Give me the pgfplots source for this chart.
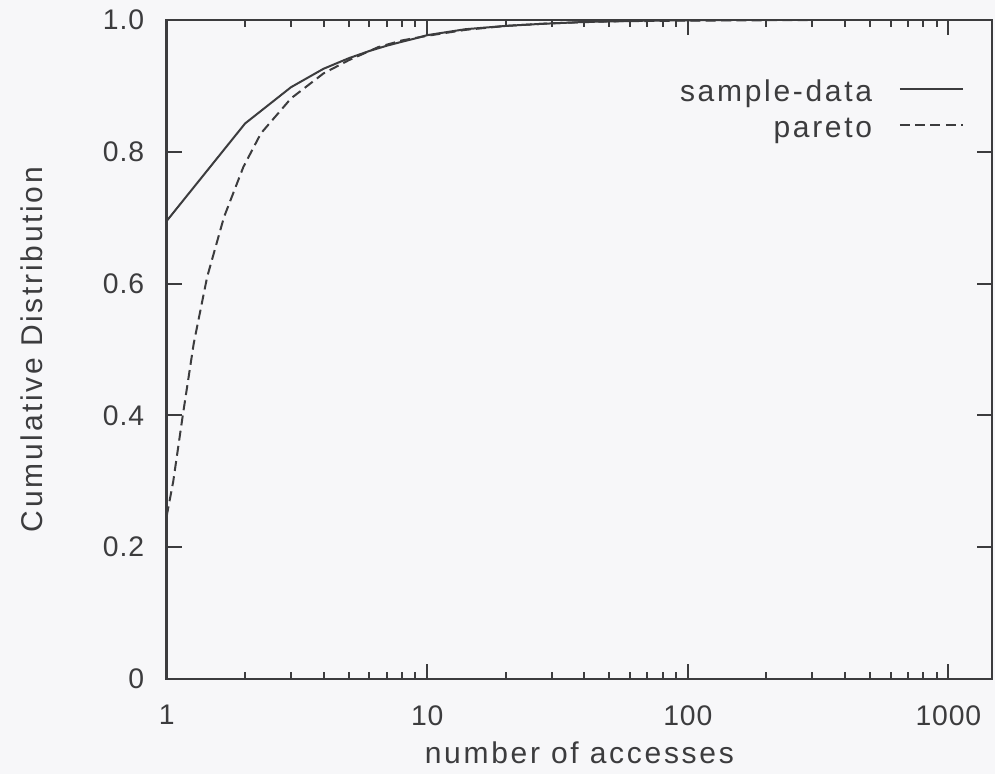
\documentclass[border=0pt]{standalone}
\usepackage{fontspec}
\setmainfont{Liberation Sans}
\newfontfamily\lsfont{Liberation Sans}[LetterSpace=9]
\newfontfamily\tickfont{Liberation Sans}[LetterSpace=3]
\usepackage{pgfplots}
\pgfplotsset{compat=1.18}
\definecolor{ink}{RGB}{60,60,62}
\definecolor{paper}{RGB}{247,247,249}

\begin{document}
\begin{tikzpicture}
\fill[paper] (-50pt,-28.5pt) rectangle (248.5pt,203.7pt);
\begin{axis}[
    at={(0,0)},
    scale only axis, width=247.6pt, height=197.7pt,
    xmode=log, xmin=1, xmax=1470, ymin=0, ymax=1,
    every axis/.append style={ink, line width=0.75pt},
    tick style={ink, line width=0.6pt}, tick align=inside,
    major tick length=4.5pt, minor tick length=2.2pt,
    xtick={1,10,100,1000}, xticklabels={1,10,100,1000},
    ytick={0,0.2,0.4,0.6,0.8,1}, yticklabels={0,0.2,0.4,0.6,0.8,1.0},
    every tick label/.append style={font=\tickfont\fontsize{8.5}{10}\selectfont, text=ink},
    xticklabel style={anchor=north, inner sep=0pt, yshift=-7.5pt},
    yticklabel style={anchor=east, inner sep=0pt, xshift=-6.4pt},
    xlabel={number of accesses}, ylabel={Cumulative Distribution},
    every axis x label/.style={at={(axis description cs:0.5,0)}, anchor=base,
        yshift=-25.2pt, inner sep=0pt, font=\lsfont\fontsize{9}{10.8}\selectfont, text=ink},
    every axis y label/.style={at={(axis description cs:-0.1632,0.5)}, rotate=90,
        anchor=center, inner sep=0pt, font=\lsfont\fontsize{9}{10.8}\selectfont, text=ink},
    legend style={at={(axis description cs:1,1)}, anchor=north east,
        xshift=-8pt, yshift=-18pt, draw=none, fill=none,
        font=\lsfont\fontsize{9}{10.8}\selectfont, text=ink,
        inner sep=0pt, row sep=2.8pt, column sep=8pt,
        nodes={inner sep=0pt, text height=6pt, text depth=2pt}},
    legend cell align=right, legend plot pos=right,
    legend image code/.code={\draw[#1] (0pt,1.8pt) -- (19pt,1.8pt);},
]
% sample data
\addplot[ink, line width=0.6pt] coordinates {
    (1,0.695) (2,0.843) (3,0.898) (4,0.926) (5,0.942) (6,0.953)
    (7,0.961) (8,0.967) (9,0.972) (10,0.977) (14,0.986) (20,0.991)
    (27,0.994) (40,0.997) (70,0.999) (150,1.0) (1470,1.0)
};
% fitted pareto
\addplot[ink, line width=0.6pt, dash pattern=on 3pt off 1.6pt] coordinates {
    (1,0.247) (1.06,0.30) (1.153,0.40) (1.27,0.509) (1.43,0.61)
    (1.66,0.701) (1.97,0.777) (2.3,0.828) (3,0.881) (4,0.919)
    (5,0.939) (6.5,0.959) (8,0.969) (10,0.976) (14,0.985) (20,0.991)
    (30,0.995) (50,0.998) (100,0.999) (300,1.0) (1470,1.0)
};
\legend{sample-data, pareto}
\end{axis}
\pgfresetboundingbox
\useasboundingbox (-50pt,-28.5pt) rectangle (248.5pt,203.7pt);
\end{tikzpicture}
\end{document}
